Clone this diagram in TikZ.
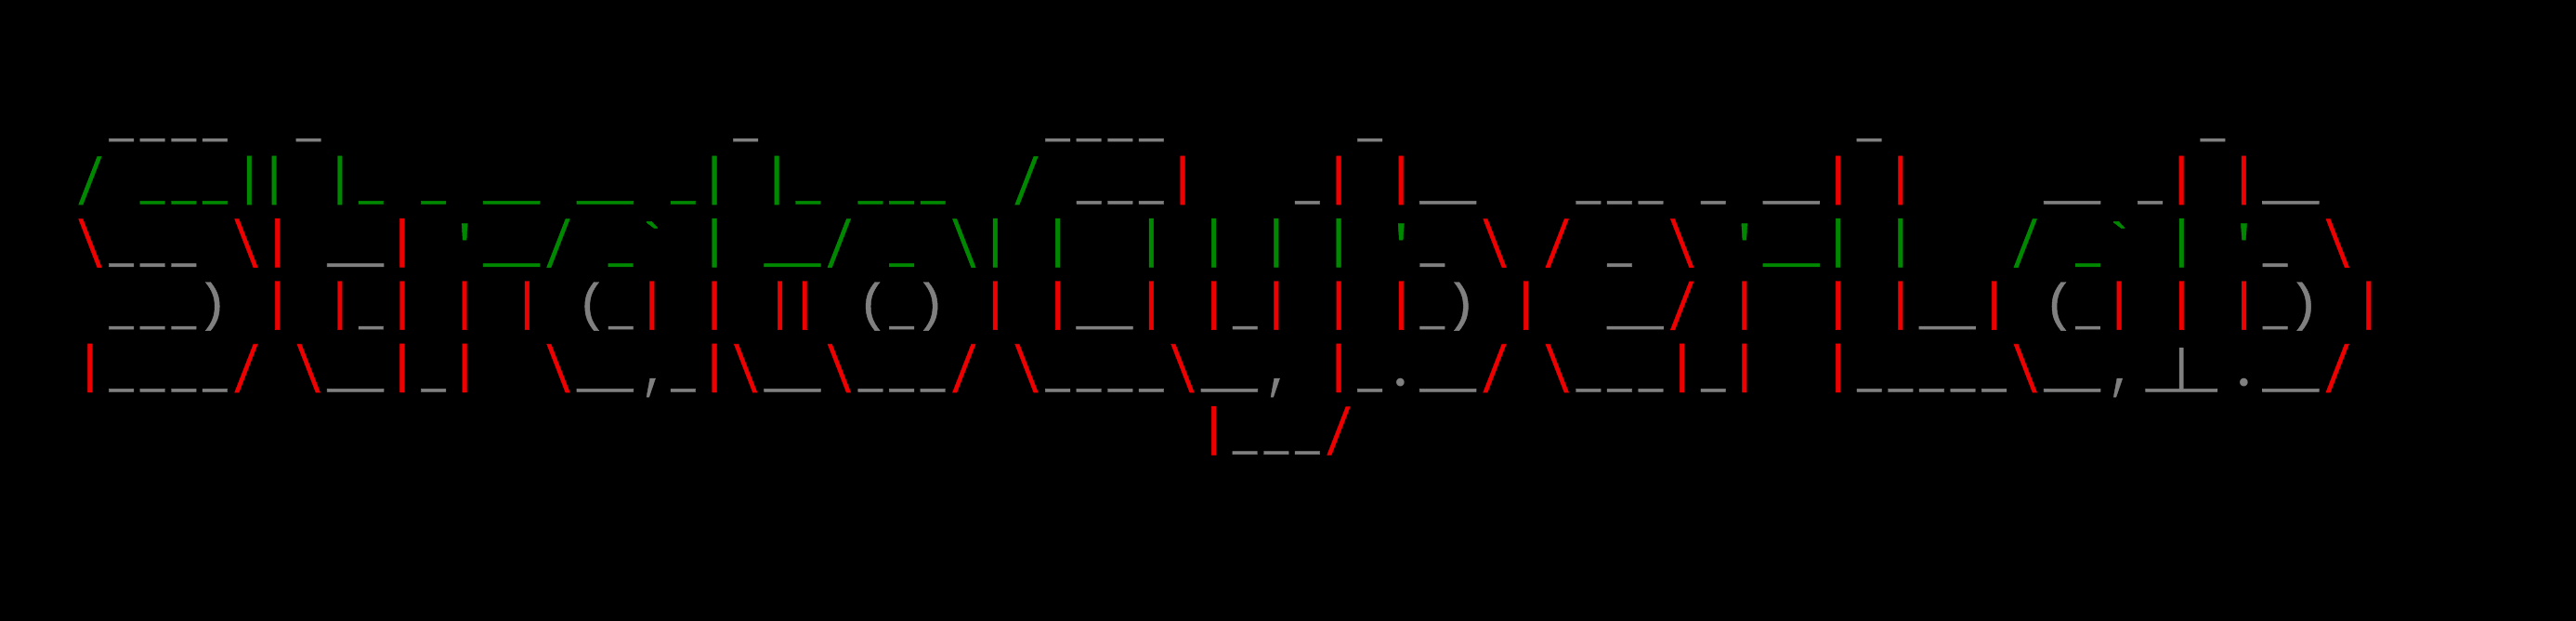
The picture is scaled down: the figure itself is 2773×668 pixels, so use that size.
\documentclass[tikz,border=0pt]{standalone}
\usepackage{graphicx}
\usepackage{fontspec}
\newfontfamily\termfont[FakeBold=0.8]{Liberation Mono}
\newfontfamily\dotfont{Poppins}
\definecolor{termgreen}{RGB}{0,136,0}
\definecolor{termred}{RGB}{238,0,0}
\definecolor{termgray}{RGB}{128,128,128}
\newlength{\cw}
\setlength{\cw}{33.6pt} % width of one terminal cell
\newcommand{\G}[1]{\textcolor{termgreen}{#1}}
\newcommand{\R}[1]{\textcolor{termred}{#1}}
\newcommand{\bs}{\makebox[\cw][c]{\raisebox{-11pt}{\scalebox{0.9}[1.26]{\textbackslash}}}}
\newcommand{\fs}{\makebox[\cw][c]{\raisebox{-11pt}{\scalebox{0.9}[1.26]{/}}}}
\newcommand{\pl}{\makebox[\cw][c]{\kern5pt\raisebox{-1pt}{(}}}
\newcommand{\pr}{\makebox[\cw][c]{\raisebox{-1pt}{)}\kern5pt}}
\newcommand{\qt}{\raisebox{-5.5pt}{'}}
\newcommand{\bt}{\raisebox{-2.5pt}{`}}
\newcommand{\cm}{\makebox[\cw][c]{\kern4pt\raisebox{-5.7pt}{\scalebox{0.8}[1.1]{,}}}}
\newcommand{\dt}{\makebox[\cw][c]{\raisebox{-5.5pt}{\scalebox{1.25}{\dotfont .}}}}
\newcommand{\sk}[1]{\hspace*{#1\cw}}
\newcommand{\ulglyph}[1]{\raisebox{-4.05pt}{\scalebox{#1}[1.15]{\_}}}
\newcommand{\ua}{\makebox[\cw][c]{\ulglyph{0.785}}} % one underscore
\newcommand{\ub}{\makebox[2\cw][c]{\ulglyph{1.79}}} % two joined underscores
\newcommand{\uc}{\makebox[3\cw][c]{\makebox[0pt][c]{\ulglyph{2.27}}\makebox[0pt][c]{\raisebox{1.5pt}{\scalebox{0.9}[0.856]{|}}}}} % joined _|_
\newcommand{\bb}{\kern3.4pt|\kern-6.8pt|\kern3.4pt} % close pair of bars
\tikzset{
	x=1pt,
	y=1pt,
	termrow/.style={anchor=base west, inner sep=0pt, outer sep=0pt, text=termgray, font=\termfont\fontsize{56pt}{60pt}\selectfont}, % one line of the banner
}
\begin{document}
\begin{tikzpicture}
	\useasboundingbox (0,0) rectangle (2773,668);
	\fill[black] (0,0) rectangle (2773,668);
	\node[termrow] (row0) at (80.2,526.8) {\sk{1}\ua\ua\ua\ua\sk{2}\ua\sk{13}\ua\sk{9}\ua\ua\ua\ua\sk{6}\ua\sk{15}\ua\sk{10}\ua};
	\node[termrow] (row1) at (80.2,459.5) {\G{\fs\sk{1}\ua\ua\ua\bb\sk{1}|\ua\sk{1}\ua\sk{1}\ub\sk{1}\ub\sk{1}\ua|\sk{1}|\ua\sk{1}\ua\ua\ua\sk{2}\fs\sk{1}}\ua\ua\ua\R{|}\sk{3}\ua\R{|}\sk{1}\R{|}\ub\sk{3}\ua\ua\ua\sk{1}\ua\sk{1}\ub\R{|}\sk{1}\R{|}\sk{4}\ub\sk{1}\ua\R{|}\sk{1}\R{|}\ub};
	\node[termrow] (row2) at (80.2,392.2) {\R{\bs}\ua\ua\ua\sk{1}\R{\bs|}\sk{1}\ub\R{|}\sk{1}\G{\qt\ub\fs\sk{1}\ua\bt\sk{1}|\sk{1}\ub\fs\sk{1}\ua\sk{1}\bs|\sk{1}|\sk{2}|\sk{1}|\sk{1}|\sk{1}|\sk{1}\qt}\ua\sk{1}\R{\bs}\sk{1}\R{\fs}\sk{1}\ua\sk{1}\R{\bs}\sk{1}\G{\qt\ub|\sk{1}|\sk{3}\fs\sk{1}\ua\bt\sk{1}|\sk{1}\qt}\ua\sk{1}\R{\bs}};
	\node[termrow] (row3) at (80.2,324.9) {\sk{1}\ua\ua\ua\pr\sk{1}\R{|}\sk{1}\R{|}\ua\R{|}\sk{1}\R{|}\sk{1}\R{|}\sk{1}\pl\ua\R{|}\sk{1}\R{|}\sk{1}\R{\bb}\sk{1}\pl\ua\pr\sk{1}\R{|}\sk{1}\R{|}\ub\R{|}\sk{1}\R{|}\ua\R{|}\sk{1}\R{|}\sk{1}\R{|}\ua\pr\sk{1}\R{|}\sk{2}\ub\R{\fs}\sk{1}\R{|}\sk{2}\R{|}\sk{1}\R{|}\ub\R{|}\sk{1}\pl\ua\R{|}\sk{1}\R{|}\sk{1}\R{|}\ua\pr\sk{1}\R{|}};
	\node[termrow] (row4) at (80.2,257.6) {\R{|}\ua\ua\ua\ua\R{\fs}\sk{1}\R{\bs}\ub\R{|}\ua\R{|}\sk{2}\R{\bs}\ub\cm\ua\R{|\bs}\ub\R{\bs}\ua\ua\ua\R{\fs}\sk{1}\R{\bs}\ua\ua\ua\ua\R{\bs}\ub\cm\sk{1}\R{|}\ua\dt\ub\R{\fs}\sk{1}\R{\bs}\ua\ua\ua\R{|}\ua\R{|}\sk{2}\R{|}\ua\ua\ua\ua\ua\R{\bs}\ub\cm\uc\dt\ub\R{\fs}};
	\node[termrow] (row5) at (80.2,190.3) {\sk{36}\R{|}\ua\ua\ua\R{\fs}};
\end{tikzpicture}
\end{document}
